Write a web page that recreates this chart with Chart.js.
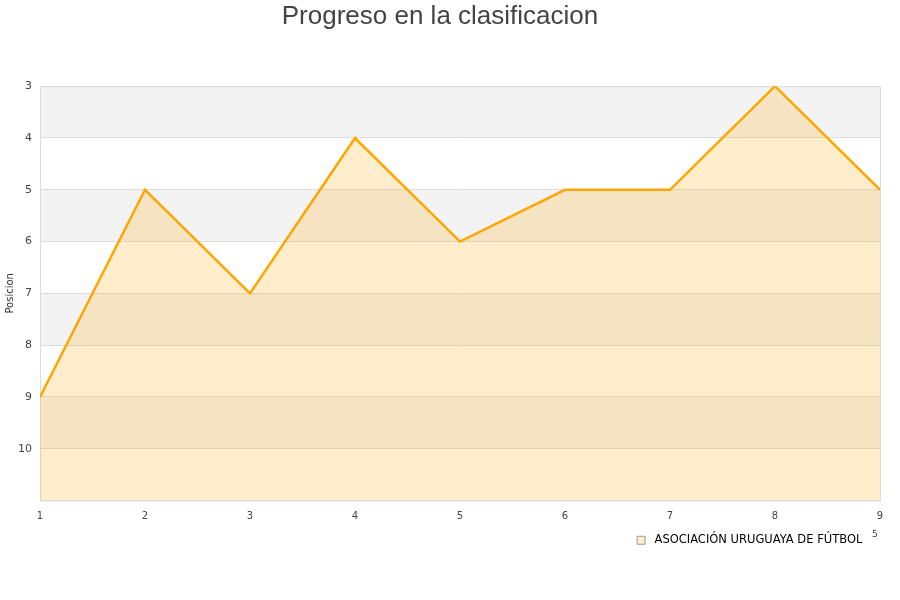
<!DOCTYPE html>
<html>
<head>
<meta charset="utf-8">
<script src="https://cdn.jsdelivr.net/npm/chart.js@4"></script>
<style>
  html, body { margin: 0; padding: 0; background: #fff; }
  #wrap { width: 900px; height: 600px; }
</style>
</head>
<body>
<div id="wrap"><canvas id="chart"></canvas></div>
<script>
// jornadas y posicion del equipo
const rounds = [1, 2, 3, 4, 5, 6, 7, 8, 9];
const positions = [9, 5, 7, 4, 6, 5, 5, 3, 5];
const teamName = "ASOCIACIÓN URUGUAYA DE FÚTBOL";
const chartTitle = "Progreso en la clasificacion";
const yTitle = "Posicion";

// alternating grey / white bands behind the plot, plus the frame
const bands = {
  id: "bands",
  beforeDraw(chart) {
    const { ctx, chartArea: a, scales: { y } } = chart;
    ctx.save();
    for (let v = y.min; v < y.max; v++) {
      const t = y.getPixelForValue(v), b = y.getPixelForValue(v + 1);
      ctx.fillStyle = (v - y.min) % 2 === 0 ? "#f3f3f3" : "#ffffff";
      ctx.fillRect(a.left, t, a.right - a.left, b - t);
    }
    ctx.strokeStyle = "#dddddd";
    ctx.lineWidth = 1;
    ctx.strokeRect(a.left + 0.5, a.top + 0.5, a.right - a.left, a.bottom - a.top);
    ctx.restore();
  },
  afterDraw(chart) {
    const { ctx } = chart;
    ctx.save();
    ctx.fillStyle = "#444";
    ctx.font = "9px 'DejaVu Sans'";
    ctx.fillText("5", 872, 535);
    ctx.restore();
  },
};

new Chart(document.getElementById("chart"), {
  type: "line",
  data: {
    datasets: [{
      label: teamName,
      data: rounds.map((r, i) => ({ x: r, y: positions[i] })),
      borderColor: "#ffa500",
      backgroundColor: "rgba(255,165,0,0.2)",
      borderWidth: 2.5,
      pointRadius: 0,
      tension: 0,
      fill: "start",
    }],
  },
  options: {
    responsive: true,
    maintainAspectRatio: false,
    animation: false,
    layout: { padding: { left: 0, right: 20, top: 1, bottom: 44 } },
    plugins: {
      title: {
        display: true, text: chartTitle, color: "#444",
        font: { family: "'Liberation Sans', Arial", size: 26, weight: "normal" },
        padding: { top: 0, bottom: 54 },
      },
      legend: {
        position: "bottom", align: "end",
        labels: {
          color: "#111", boxWidth: 8, boxHeight: 8, padding: 14,
          font: { family: "'DejaVu Sans'", size: 11.5 },
          generateLabels: () => [{
            text: " " + teamName + " ", fillStyle: "#ffedcc", strokeStyle: "#999", lineWidth: 1, datasetIndex: 0,
          }],
        },
      },
      tooltip: { enabled: false },
    },
    scales: {
      x: {
        type: "linear", min: 1, max: 9,
        ticks: { stepSize: 1, color: "#444", padding: 2, font: { family: "'DejaVu Sans'", size: 10 } },
        grid: { display: false },
        border: { color: "#dddddd" },
        afterFit: (s) => { s.height = 20; },
      },
      y: {
        reverse: true, min: 3, max: 11,
        ticks: {
          stepSize: 1, color: "#444", padding: 8,
          font: { family: "'DejaVu Sans'", size: 11 },
          callback: (v) => (v === 11 ? "" : v),
        },
        grid: { color: "#dddddd", drawTicks: false },
        border: { color: "#dddddd" },
        title: { display: true, text: yTitle, color: "#333", padding: { top: 4, bottom: 0 }, font: { family: "'DejaVu Sans'", size: 10 } },
        afterFit: (s) => { s.width = 40; },
      },
    },
  },
  plugins: [bands],
});
</script>
</body>
</html>
